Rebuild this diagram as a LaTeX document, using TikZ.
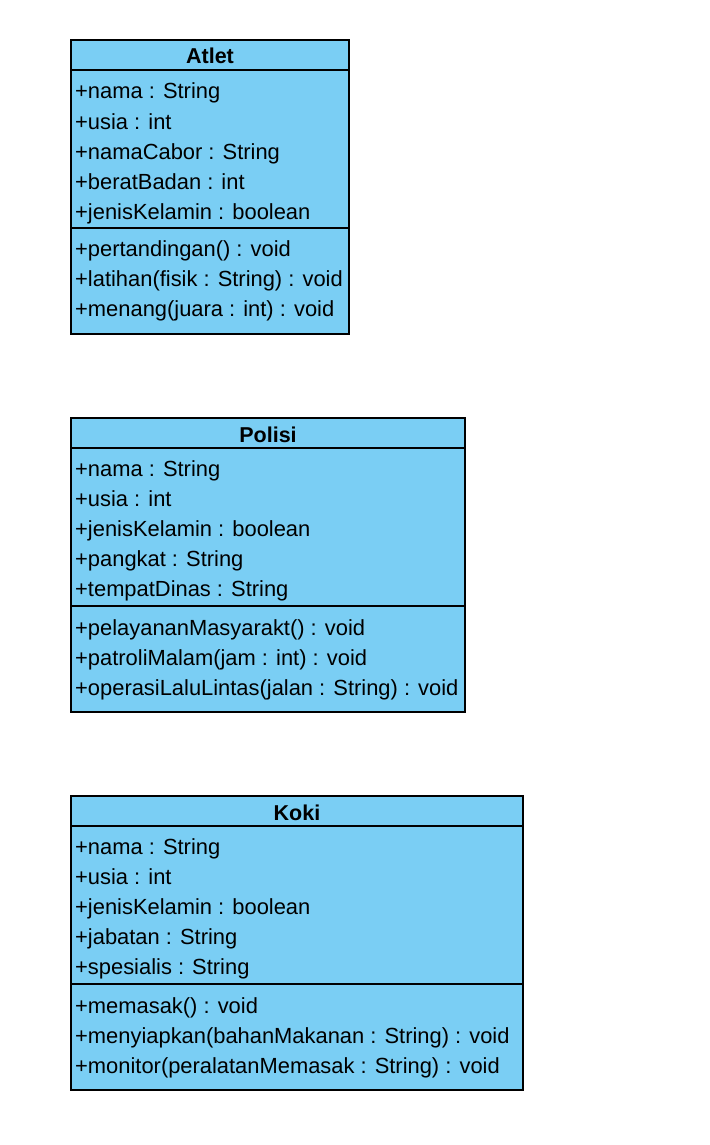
\documentclass[tikz,border=0pt]{standalone}
\usepackage{fontspec}
\setmainfont{Liberation Sans}
\definecolor{classfill}{HTML}{7ACEF4}
\begin{document}
\begin{tikzpicture}[x=1pt,y=-1pt,
  classbox/.style={draw=black,fill=classfill,line width=1.4pt,inner sep=0pt,outer sep=0pt},
  title/.style={font=\fontsize{21.5}{24}\selectfont\bfseries,inner sep=0pt,anchor=base},
  member/.style={font=\fontsize{21.9}{24}\selectfont,inner sep=0pt,anchor=base west},
  sep/.style={line width=1.4pt}]
\useasboundingbox (0,0) rectangle (709,1145);
% ---------- Atlet ----------
\node[classbox,minimum width=278pt,minimum height=294pt,anchor=north west] (atlet) at (71,40) {};
\node[title] (atletT) at (210,64) {Atlet};
\draw[sep] (atlet.west |- 0,70) -- (atlet.east |- 0,70);
\draw[sep] (atlet.west |- 0,228) -- (atlet.east |- 0,228);
\node[member] (at1) at (75,99) {+nama : String};
\node[member] (at2) at (75,129) {+usia : int};
\node[member] (at3) at (75,159) {+namaCabor : String};
\node[member] (at4) at (75,189) {+beratBadan : int};
\node[member] (at5) at (75,219) {+jenisKelamin : boolean};
\node[member] (am1) at (75,256) {+pertandingan() : void};
\node[member] (am2) at (75,286) {+latihan(fisik : String) : void};
\node[member] (am3) at (75,316) {+menang(juara : int) : void};
% ---------- Polisi ----------
\node[classbox,minimum width=394pt,minimum height=294pt,anchor=north west] (polisi) at (71,418) {};
\node[title] (polisiT) at (268,442) {Polisi};
\draw[sep] (polisi.west |- 0,448) -- (polisi.east |- 0,448);
\draw[sep] (polisi.west |- 0,606) -- (polisi.east |- 0,606);
\node[member] (pt1) at (75,476) {+nama : String};
\node[member] (pt2) at (75,506) {+usia : int};
\node[member] (pt3) at (75,536) {+jenisKelamin : boolean};
\node[member] (pt4) at (75,566) {+pangkat : String};
\node[member] (pt5) at (75,596) {+tempatDinas : String};
\node[member] (pm1) at (75,635) {+pelayananMasyarakt() : void};
\node[member] (pm2) at (75,665) {+patroliMalam(jam : int) : void};
\node[member] (pm3) at (75,695) {+operasiLaluLintas(jalan : String) : void};
% ---------- Koki ----------
\node[classbox,minimum width=452pt,minimum height=294pt,anchor=north west] (koki) at (71,796) {};
\node[title] (kokiT) at (297,820) {Koki};
\draw[sep] (koki.west |- 0,826) -- (koki.east |- 0,826);
\draw[sep] (koki.west |- 0,984) -- (koki.east |- 0,984);
\node[member] (kt1) at (75,854) {+nama : String};
\node[member] (kt2) at (75,884) {+usia : int};
\node[member] (kt3) at (75,914) {+jenisKelamin : boolean};
\node[member] (kt4) at (75,944) {+jabatan : String};
\node[member] (kt5) at (75,974) {+spesialis : String};
\node[member] (km1) at (75,1013) {+memasak() : void};
\node[member] (km2) at (75,1043) {+menyiapkan(bahanMakanan : String) : void};
\node[member] (km3) at (75,1073) {+monitor(peralatanMemasak : String) : void};
\end{tikzpicture}
\end{document}
